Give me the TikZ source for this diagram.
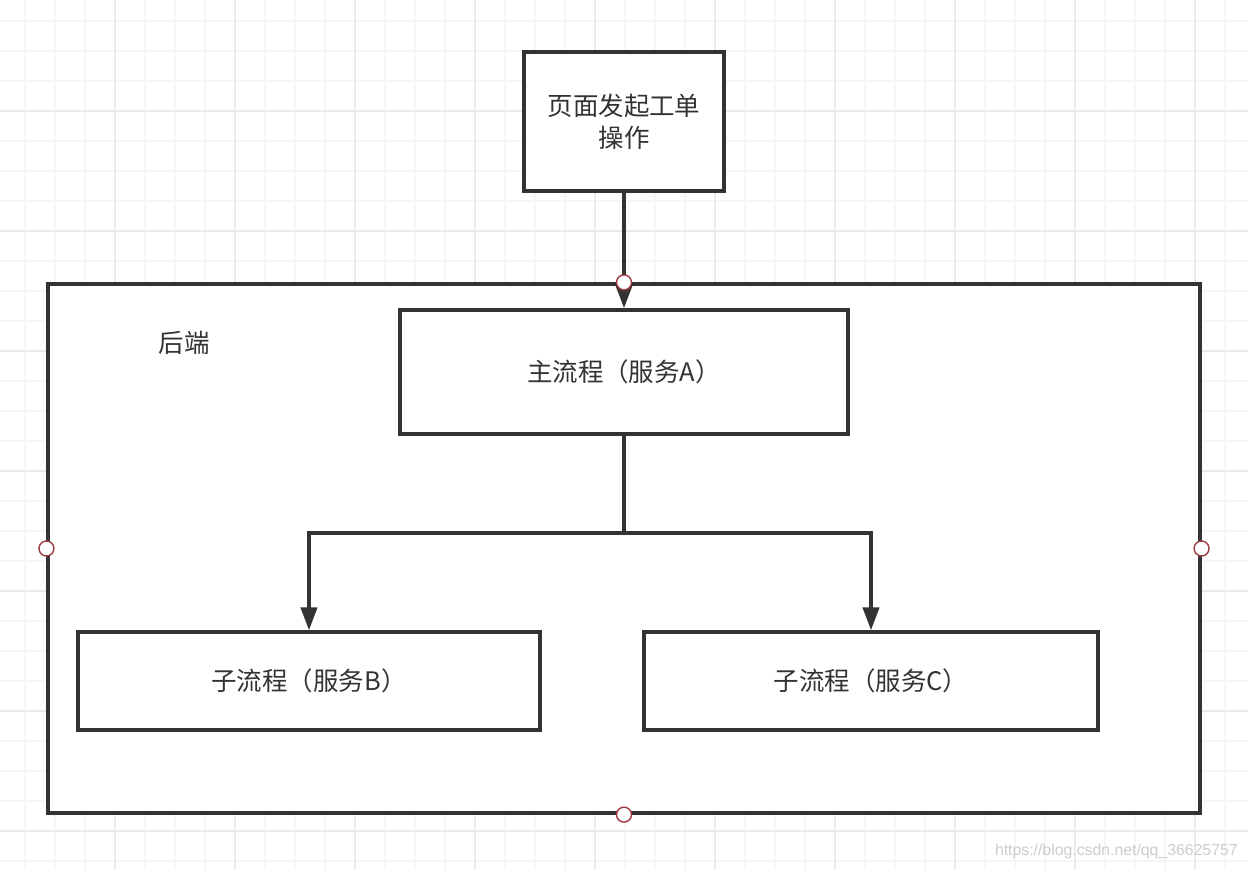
\documentclass[tikz,border=0pt]{standalone}
\usepackage{fontspec}
\setmainfont{Liberation Sans}
\newfontfamily\cjk{Noto Sans CJK SC}
\usetikzlibrary{arrows.meta}
\definecolor{linegray}{HTML}{333333}
\definecolor{gridminor}{HTML}{F5F5F5}
\definecolor{gridmajor}{HTML}{EBEBEB}
\definecolor{portred}{HTML}{9E3A3F}
\tikzset{
  box/.style = {draw = linegray, line width = 1.9pt, fill = white, inner sep = 0pt,
                align = center, text = linegray, font = \cjk\fontsize{14.5}{18}\selectfont},
  link/.style = {draw = linegray, line width = 2.3pt,
                 -{Triangle[length = 0.46cm, width = 0.32cm]}},
  port/.style = {circle, draw = portred, fill = white, line width = 0.8pt,
                 minimum size = 0.3cm, inner sep = 0pt}
}
\begin{document}
\begin{tikzpicture}[x = 0.02cm, y = -0.02cm]
    \useasboundingbox (0,0) rectangle (1248,870);
    % background grid
    \foreach \x in {25,55,...,1245}
        \draw [gridminor, line width = 0.6pt] (\x,0) -- (\x,870);
    \foreach \y in {21,51,...,861}
        \draw [gridminor, line width = 0.6pt] (0,\y) -- (1248,\y);
    \foreach \x in {115,235,...,1195}
        \draw [gridmajor, line width = 0.8pt] (\x,0) -- (\x,870);
    \foreach \y in {111,231,...,831}
        \draw [gridmajor, line width = 0.8pt] (0,\y) -- (1248,\y);

    % boxes
    \node [box, minimum width = 23.04cm, minimum height = 10.58cm] (backend) at (624,548.5) {};
    \node [box, minimum width = 4cm, minimum height = 2.78cm] (page) at (624,121.5) {页面发起工单\\操作};
    \node [box, minimum width = 8.96cm, minimum height = 2.48cm] (mainflow) at (624,372) {主流程（服务A）};
    \node [box, minimum width = 9.24cm, minimum height = 1.96cm] (subB) at (309,681) {子流程（服务B）};
    \node [box, minimum width = 9.08cm, minimum height = 1.96cm] (subC) at (871,681) {子流程（服务C）};
    \node [text = linegray, font = \cjk\fontsize{14.5}{18}\selectfont] (backlabel) at (184,343) {后端};

    % connectors
    \coordinate (split) at (624,533);
    \draw [link] (page.south) -- (mainflow.north);
    \draw [link] (mainflow.south) -- (split) -| (subB.north);
    \draw [link] (mainflow.south) -- (split) -| (subC.north);

    % ports on the container
    \foreach \side in {north,west,east,south}
        \node [port] at (backend.\side) {};

    \node [anchor = east, inner sep = 0pt, text = gray!40, font = \fontsize{9}{11}\selectfont] (mark) at (1238,851) {https://blog.csdn.net/qq\_36625757};
\end{tikzpicture}
\end{document}
